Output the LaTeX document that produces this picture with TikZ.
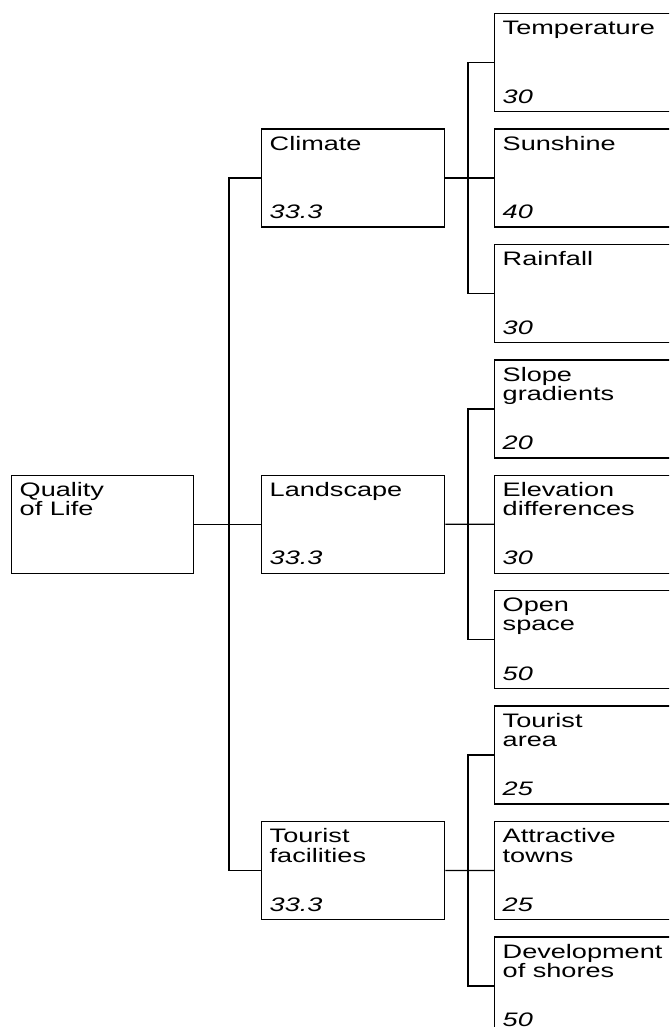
\documentclass[tikz,border=0pt]{standalone}
\usepackage{fontspec}
\newfontfamily\boxfont[FakeStretch=1.39]{Liberation Sans}
\usetikzlibrary{positioning}

\tikzset{
    box/.style={draw, line width=1.3pt, fill=white, inner sep=0pt,
        minimum width=183pt, minimum height=98pt, anchor=north west},
    leaf/.style={box, minimum width=200pt},
    title/.style={anchor=north west, inner sep=0pt, align=left,
        font=\boxfont\fontsize{19.5}{19.5}\selectfont, xshift=8.5pt, yshift=-7.5pt},
    weight/.style={anchor=base west, inner sep=0pt,
        font=\boxfont\itshape\fontsize{19.5}{19.5}\selectfont, xshift=8.5pt, yshift=9pt},
    link/.style={line width=1.3pt}
}

\begin{document}
\begin{tikzpicture}[x=1pt, y=-1pt]
    \useasboundingbox (0,0) rectangle (669,1027);
    \clip (0,0) rectangle (669,1027);

    % root
    \node[box, minimum width=182pt] (qol) at (11,474.6) {};
    \node[title] (qol-t) at (qol.north west) {Quality\\of Life};

    % criteria
    \node[box] (climate)   at (261,128.4) {};
    \node[box] (landscape) at (261,474.6) {};
    \node[box] (tourism)   at (261,820.8) {};
    \node[title]  (climate-t)   at (climate.north west)   {Climate};
    \node[weight] (climate-w)   at (climate.south west)   {33.3};
    \node[title]  (landscape-t) at (landscape.north west) {Landscape};
    \node[weight] (landscape-w) at (landscape.south west) {33.3};
    \node[title]  (tourism-t)   at (tourism.north west)   {Tourist\\facilities};
    \node[weight] (tourism-w)   at (tourism.south west)   {33.3};

    % sub-criteria
    \foreach \i/\name/\val in {0/Temperature/30, 1/Sunshine/40, 2/Rainfall/30,
        3/{Slope\\gradients}/20, 4/{Elevation\\differences}/30, 5/{Open\\space}/50,
        6/{Tourist\\area}/25, 7/{Attractive\\towns}/25, 8/{Development\\of shores}/50}
    {
        \node[leaf] (leaf\i) at (494,13+115.4*\i) {};
        \node[title]  (leaf\i-t) at (leaf\i.north west) {\name};
        \node[weight] (leaf\i-w) at (leaf\i.south west) {\val};
    }

    % spines
    \coordinate (spine) at (229,0);
    \coordinate (split) at (468,0);

    \draw[link] (qol.east) -- (landscape.west);
    \draw[link] (climate.west) -- (climate.west -| spine)
        -- (tourism.west -| spine) -- (tourism.west);

    \draw[link] (climate.east) -- (leaf1.west);
    \draw[link] (leaf0.west) -- (leaf0.west -| split)
        -- (leaf2.west -| split) -- (leaf2.west);
    \draw[link] (landscape.east) -- (leaf4.west);
    \draw[link] (leaf3.west) -- (leaf3.west -| split)
        -- (leaf5.west -| split) -- (leaf5.west);
    \draw[link] (tourism.east) -- (leaf7.west);
    \draw[link] (leaf6.west) -- (leaf6.west -| split)
        -- (leaf8.west -| split) -- (leaf8.west);
\end{tikzpicture}
\end{document}
